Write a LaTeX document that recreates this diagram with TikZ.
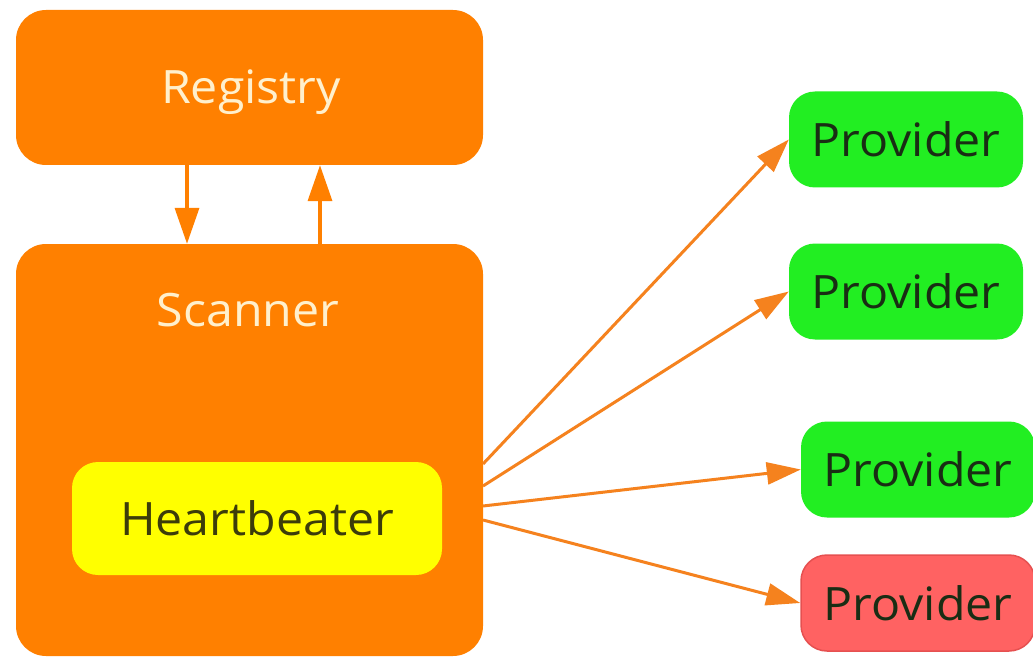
\documentclass[tikz,border=0pt]{standalone}
\usepackage{fontspec}
\setmainfont{Open Sans}[FakeStretch=1.05]
\usetikzlibrary{arrows.meta,calc}
\definecolor{orng}{RGB}{255,128,0}
\definecolor{arrc}{RGB}{245,130,30}
\definecolor{grn}{RGB}{34,238,34}
\definecolor{redp}{RGB}{255,98,98}
\definecolor{redb}{RGB}{230,80,80}
\definecolor{yel}{RGB}{255,255,0}
\definecolor{cream}{RGB}{255,240,205}
\definecolor{darkt}{RGB}{25,45,20}
\definecolor{darky}{RGB}{60,60,10}
\tikzset{
  x=1pt,y=-1pt,
  txt/.style={font=\fontsize{46}{52}\selectfont},
  bigbox/.style={fill=orng,draw=none,rounded corners=30pt,inner sep=0pt},
  whitetext/.style={txt,text=cream},
  prov/.style={txt,fill=grn,draw=none,rounded corners=26pt,minimum width=234pt,minimum height=96pt,inner sep=0pt,text=darkt},
  provbad/.style={prov,fill=redp,draw=redb,line width=1.5pt},
  hb/.style={txt,fill=yel,draw=none,rounded corners=26pt,minimum width=370pt,minimum height=113pt,inner sep=0pt,text=darky},
  conn/.style={draw=arrc,line width=3pt,-{Triangle[length=34pt,width=22pt]}},
  vconn/.style={draw=orng,line width=3.5pt,-{Triangle[length=36pt,width=24pt]}}
}
\begin{document}
\begin{tikzpicture}
\useasboundingbox[fill=white] (0,0) rectangle (1033,663);
\node[bigbox,minimum width=467pt,minimum height=155pt] (registry) at (249.5,87.5) {};
\node[whitetext] (registrytext) at (251,92) {Registry};
\node[bigbox,minimum width=467pt,minimum height=412pt] (scanner) at (249.5,450) {};
\node[whitetext] (scannertext) at (248,310) {Scanner};
\node[hb] (heart) at (257,518.5) {Heartbeater};
\node[prov] (p1) at (906,139.5) {Provider};
\node[prov] (p2) at (906,291.5) {Provider};
\node[prov] (p3) at (918,469.5) {Provider};
\node[provbad] (p4) at (918,603) {Provider};
\draw[vconn] ([xshift=-62.5pt]registry.south) -- ([xshift=-62.5pt]scanner.north);
\draw[vconn] ([xshift=70.5pt]scanner.north) -- ([xshift=70.5pt]registry.south);
\coordinate (s1) at (483,464);
\coordinate (s2) at (483,486);
\coordinate (s3) at (483,506);
\coordinate (s4) at (483,520);
\draw[conn] (s1) -- (p1.west);
\draw[conn] (s2) -- (p2.west);
\draw[conn] (s3) -- (p3.west);
\draw[conn] (s4) -- (p4.west);
\end{tikzpicture}
\end{document}
